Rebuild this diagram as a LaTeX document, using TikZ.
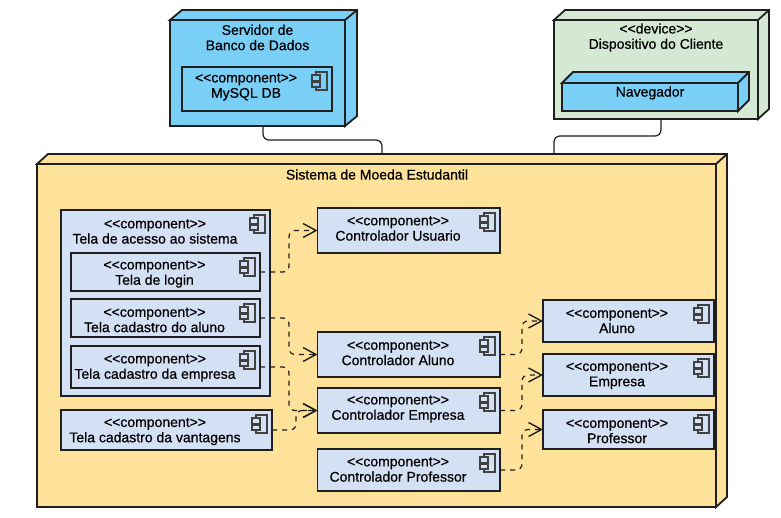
\documentclass[tikz,border=0pt]{standalone}
\usepackage{fontspec}
\setmainfont{Liberation Sans}[FakeBold=0.6]
\usetikzlibrary{arrows.meta,calc}
\definecolor{sysfill}{HTML}{FFE299}
\definecolor{compfill}{HTML}{D4E1F5}
\definecolor{nodefill}{HTML}{7ACFF7}
\definecolor{devfill}{HTML}{D5E8D4}
\definecolor{edge}{HTML}{1F1F1F}
\tikzset{
	txt/.style = {align = center, inner sep = 0pt, text = black, font = \fontsize{14}{15.3}\selectfont},
	box/.style = {draw = edge, line width = 1.8pt, inner sep = 0pt, outer sep = 0pt},
	link/.style = {draw = edge, line width = 1.2pt, rounded corners = 6pt},
	depend/.style = {draw = edge, line width = 1.2pt, dash pattern = on 5pt off 5pt, rounded corners = 6pt,
		-{Straight Barb[length = 13pt, width = 14pt, line width = 1.4pt]}},
	pics/compicon/.style = {code = {
		\draw[draw = edge!85, line width = 1.2pt, fill = #1] (-11,0) rectangle (0,18);
		\draw[draw = edge!85, line width = 1.2pt, fill = #1] (-15,3) rectangle (-7,9);
		\draw[draw = edge!85, line width = 1.2pt, fill = #1] (-15,10) rectangle (-7,15);
	}}
}
\newcommand{\stereo}[1]{<\kern0pt<#1>\kern0pt>}
% name, fill, left, top, right, bottom, text x, text y, text
\newcommand{\comp}[9]{
	\node[box, fill = #2, minimum width = {#5-#3}, minimum height = {#6-#4}] (#1) at ({(#3+#5)/2},{(#4+#6)/2}) {};
	\pic at ({#5-5},{#4+5}) {compicon = #2};
	\node[txt] (#1-txt) at (#7,#8) {\stereo{component}\\#9};
}
% name, fill, left, top, right, bottom, depth x, depth y
\newcommand{\cube}[8]{
	\draw[box, fill = #2] (#3,#4) -- ++(#7,-#8) -- ({#5+#7},{#4-#8}) -- ({#5+#7},{#6-#8}) -- (#5,#6) -- (#5,#4) -- cycle;
	\draw[box] (#5,#4) -- ({#5+#7},{#4-#8});
	\node[box, fill = #2, minimum width = {#5-#3}, minimum height = {#6-#4}] (#1) at ({(#3+#5)/2},{(#4+#6)/2}) {};
}
\begin{document}
\begin{tikzpicture}[x = 1pt, y = -1pt]
	\useasboundingbox (0,0) rectangle (781,517);
	% nodes
	\cube{servidor}{nodefill}{170}{20}{345}{126}{12}{10}
	\node[txt] (servidor-txt) at (257.5,37.5) {Servidor de\\Banco de Dados};
	\comp{mysql}{nodefill}{182}{67}{332}{111}{246}{87}{MySQL DB}
	\cube{cliente}{devfill}{554}{20}{758}{119}{11}{10}
	\node[txt] (cliente-txt) at (656,37.5) {\stereo{device}\\Dispositivo do Cliente};
	\cube{navegador}{nodefill}{562}{83}{738}{111}{11}{11}
	\node[txt] (navegador-txt) at (650,93) {Navegador};
	\cube{sistema}{sysfill}{37}{164}{716}{507}{11}{10}
	\node[txt] (sistema-txt) at (377,174.5) {Sistema de Moeda Estudantil};
	% links
	\draw[link] ([xshift = 5.5pt]servidor.south) -- ++(0,14) -| ([xshift = 5.5pt, yshift = 10pt]sistema.north);
	\draw[link] ([xshift = 5pt]cliente.south) -- ++(0,17) -| ([xshift = 177.5pt, yshift = 10pt]sistema.north);
	% telas
	\comp{acesso}{compfill}{61}{210}{270}{396}{155}{231.5}{Tela de acesso ao sistema}
	\comp{login}{compfill}{71}{253}{260}{291}{154.5}{274}{Tela de login}
	\comp{telaaluno}{compfill}{71}{299}{260}{337}{154.5}{320}{Tela cadastro do aluno}
	\comp{telaempresa}{compfill}{71}{346}{260}{388}{155}{368}{Tela cadastro da empresa}
	\comp{vantagens}{compfill}{61}{410}{272}{450}{155}{431.5}{Tela cadastro da vantagens}
	% controladores
	\comp{cusuario}{compfill}{317.5}{208}{500}{253}{398}{228.5}{Controlador Usuario}
	\comp{caluno}{compfill}{317.5}{332}{500}{377}{398}{353}{Controlador Aluno}
	\comp{cempresa}{compfill}{317.5}{388}{500}{433}{398}{409}{Controlador Empresa}
	\comp{cprofessor}{compfill}{317.5}{449}{500}{491}{398}{469.5}{Controlador Professor}
	% entidades
	\comp{aluno}{compfill}{543}{300}{714}{342}{617}{321}{Aluno}
	\comp{empresa}{compfill}{543}{354}{714}{396}{617}{375.5}{Empresa}
	\comp{professor}{compfill}{543}{410}{714}{449}{617}{431}{Professor}
	% dependencies
	\draw[depend] (login.east) -- ++(29,0) |- (cusuario.west);
	\draw[depend] (telaaluno.east) -- ++(29,0) |- (caluno.west);
	\draw[depend] (telaempresa.east) -- ++(29,0) |- (cempresa.west);
	\draw[depend] (vantagens.east) -- ++(24,0) |- (cempresa.west);
	\draw[depend] (caluno.east) -- ++(22,0) |- (aluno.west);
	\draw[depend] (cempresa.east) -- ++(22,0) |- (empresa.west);
	\draw[depend] (cprofessor.east) -- ++(22,0) |- (professor.west);
\end{tikzpicture}
\end{document}
